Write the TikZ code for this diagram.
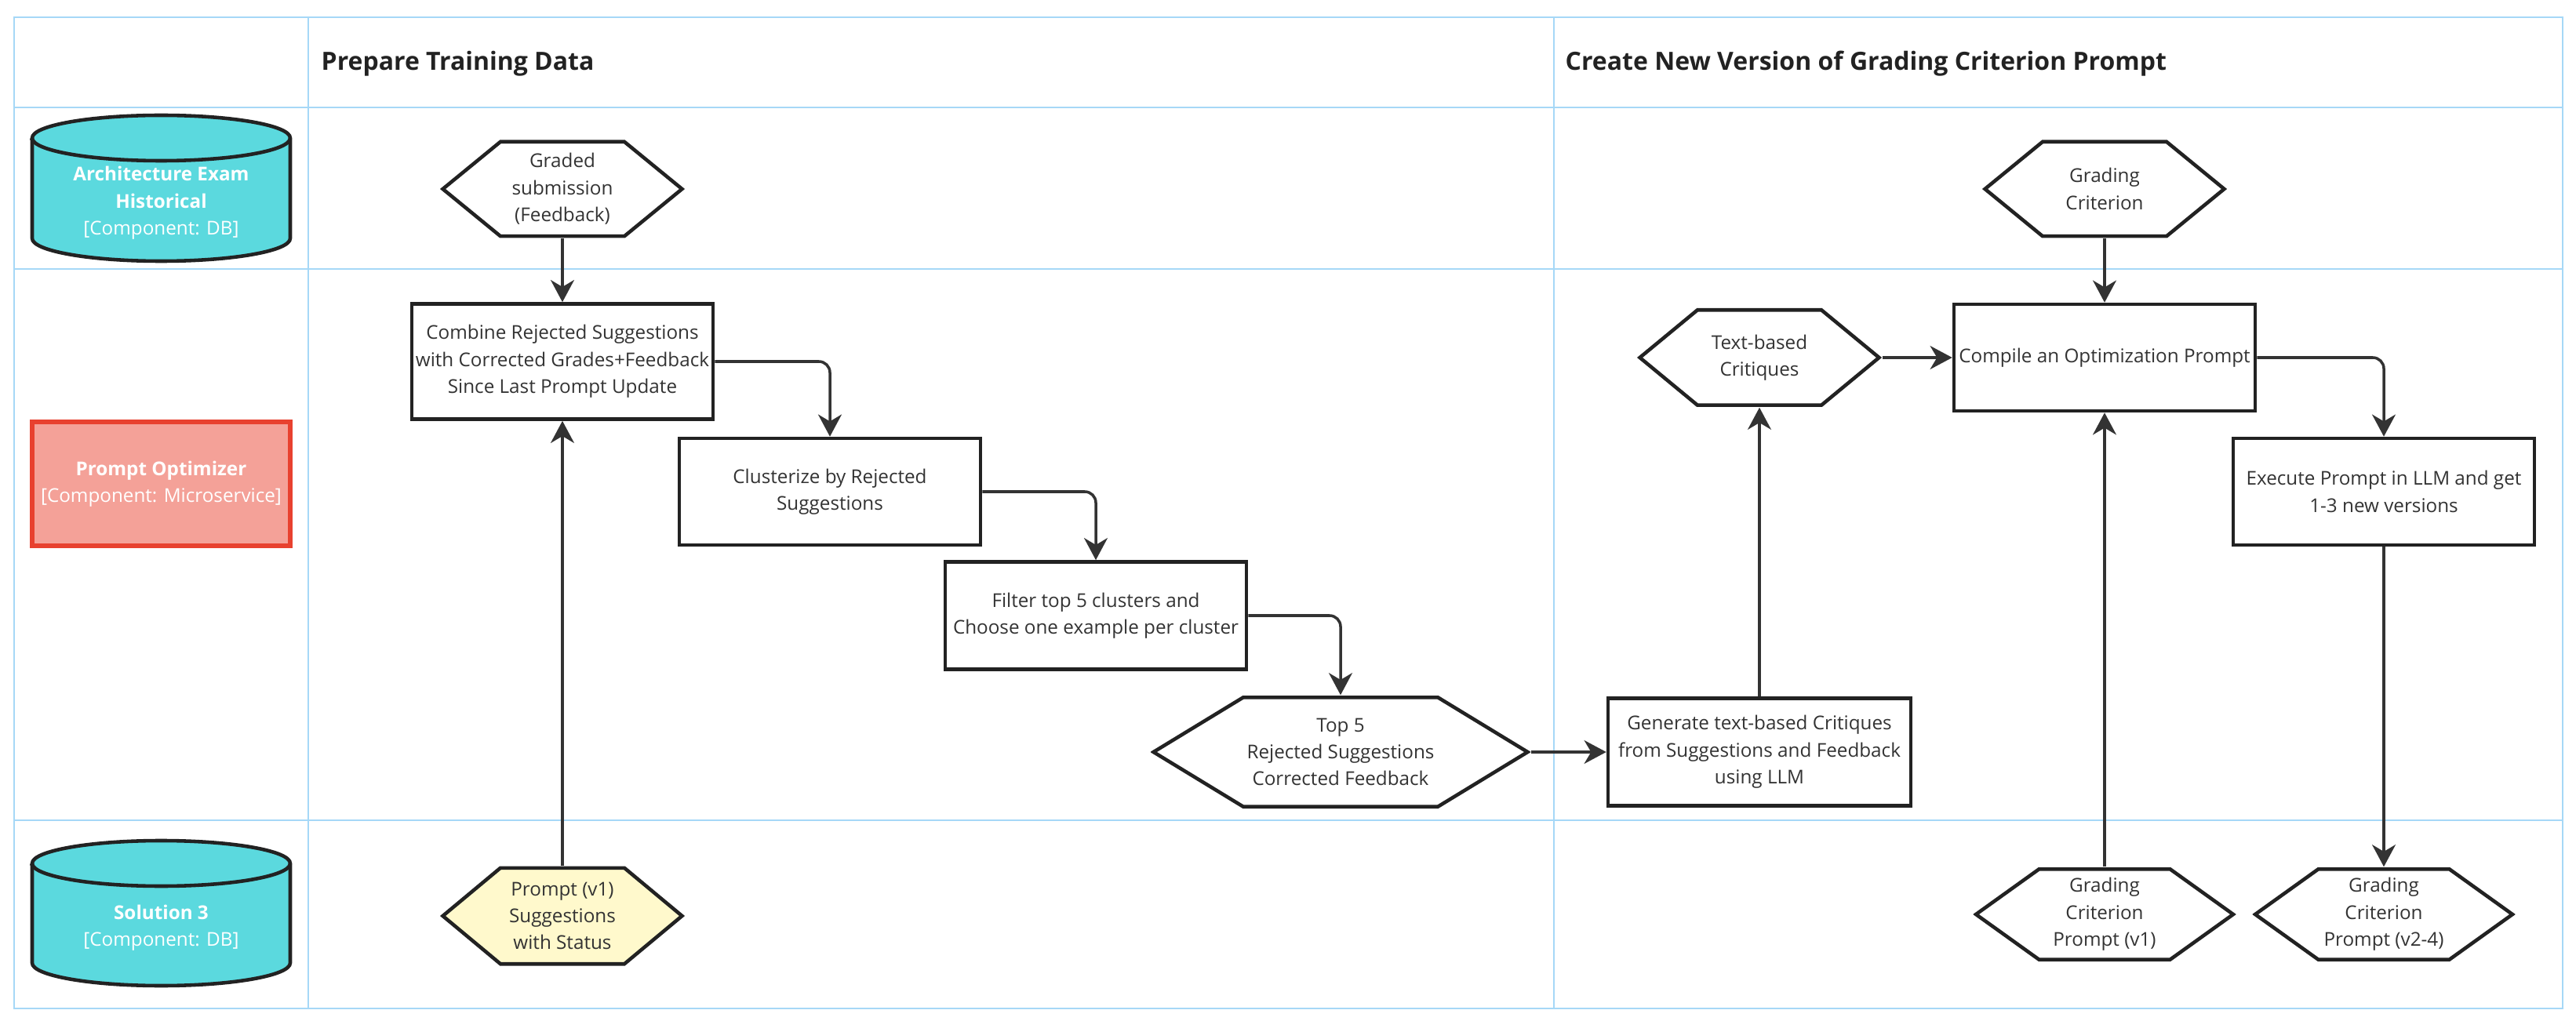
\documentclass[tikz,border=0pt]{standalone}
\usepackage{fontspec}
\setmainfont{Open Sans}
\usetikzlibrary{arrows.meta}

\definecolor{gridblue}{RGB}{166,216,247}
\definecolor{dbteal}{RGB}{91,217,222}
\definecolor{optred}{RGB}{244,161,152}
\definecolor{optborder}{RGB}{232,65,47}
\definecolor{notepale}{RGB}{255,249,204}
\definecolor{inkgray}{RGB}{51,51,51}
\definecolor{edgegray}{RGB}{34,34,34}

\tikzset{
  hexslant/.store in=\hexslant, hexslant=0.77cm,
  hexfill/.store in=\hexfill, hexfill=white,
}

\begin{document}
\begin{tikzpicture}[
    every node/.style={font={\fontsize{6.9}{9.8}\selectfont}, text=inkgray},
    lane/.style={draw=gridblue, line width=0.7pt},
    head/.style={anchor=west, inner sep=0pt, font={\fontsize{9.1}{11}\selectfont\bfseries}, text=edgegray},
    dbtext/.style={align=center, text=white},
    box/.style={draw=edgegray, line width=1.3pt, fill=white, align=center,
      minimum width=3.84cm, minimum height=1.36cm, inner sep=1pt},
    hexa/.style={align=center, inner sep=1pt, minimum width=3.12cm, minimum height=1.25cm,
      path picture={
        \filldraw[fill=\hexfill, draw=edgegray, line width=1.3pt]
          ([xshift=1pt]path picture bounding box.west)
          -- ([xshift=\hexslant, yshift=-0.65pt]path picture bounding box.north west)
          -- ([xshift=-\hexslant, yshift=-0.65pt]path picture bounding box.north east)
          -- ([xshift=-1pt]path picture bounding box.east)
          -- ([xshift=-\hexslant, yshift=0.65pt]path picture bounding box.south east)
          -- ([xshift=\hexslant, yshift=0.65pt]path picture bounding box.south west)
          -- cycle;
      }},
    flow/.style={draw=inkgray, line width=1pt, rounded corners=4pt,
      -{Stealth[length=8pt, width=8.5pt, inset=2.5pt]}},
  ]
  \useasboundingbox (0,0) rectangle (32.84,13.01);

  % swimlane grid
  \draw[lane] (0.18,0.15) rectangle (32.67,12.79);
  \draw[lane] (3.93,0.15) -- (3.93,12.79) (19.81,0.15) -- (19.81,12.79);
  \foreach \y in {11.64,9.58,2.55} \draw[lane] (0.18,\y) -- (32.67,\y);

  \node[head] (prephead) at (4.09,12.20) {Prepare Training Data};
  \node[head] (createhead) at (19.95,12.20) {Create New Version of Grading Criterion Prompt};

  % databases
  \foreach \ytop/\ybot in {11.25/9.97, 2.00/0.73} {
    \filldraw[fill=dbteal, draw=edgegray, line width=1.3pt]
      (0.41,\ytop) -- (0.41,\ybot) arc[start angle=180, end angle=360, x radius=1.645, y radius=0.29]
      -- (3.70,\ytop) arc[start angle=0, end angle=180, x radius=1.645, y radius=0.29] -- cycle;
    \draw[edgegray, line width=1.3pt] (0.41,\ytop) arc[start angle=180, end angle=360, x radius=1.645, y radius=0.29];
  }
  \node[dbtext] (archdb) at (2.055,10.42) {\textbf{Architecture Exam}\\\textbf{Historical}\\{[Component: DB]}};
  \node[dbtext] (soldb) at (2.055,1.18) {\textbf{Solution 3}\\{[Component: DB]}};
  \node[box, fill=optred, draw=optborder, line width=1.6pt, minimum width=3.29cm, minimum height=1.58cm, text=white]
    (optimizer) at (2.055,6.84) {\textbf{Prompt Optimizer}\\{[Component: Microservice]}};

  % prepare training data
  \node[hexa] (graded) at (7.17,10.60) {Graded\\submission\\(Feedback)};
  \node[box, minimum height=1.47cm] (combine) at (7.17,8.40) {Combine Rejected Suggestions\\with Corrected Grades+Feedback\\Since Last Prompt Update};
  \node[box] (cluster) at (10.58,6.74) {Clusterize by Rejected\\Suggestions};
  \node[box, minimum height=1.37cm] (filter) at (13.97,5.16) {Filter top 5 clusters and\\Choose one example per cluster};
  \node[hexa, hexslant=1.18cm, minimum width=4.84cm, minimum height=1.44cm] (topfive) at (17.09,3.42) {Top 5\\Rejected Suggestions\\Corrected Feedback};
  \node[hexa, hexfill=notepale, minimum height=1.27cm] (suggest) at (7.17,1.33) {Prompt (v1)\\Suggestions\\with Status};

  % new prompt version
  \node[box, minimum width=3.86cm, minimum height=1.37cm] (generate) at (22.43,3.42) {Generate text-based Critiques\\from Suggestions and Feedback\\using LLM};
  \node[hexa, minimum height=1.26cm] (critiques) at (22.43,8.45) {Text-based\\Critiques};
  \node[box] (compile) at (26.83,8.45) {Compile an Optimization Prompt};
  \node[box] (execute) at (30.39,6.74) {Execute Prompt in LLM and get\\1-3 new versions};
  \node[hexa] (gradcrit) at (26.83,10.60) {Grading\\Criterion};
  \node[hexa, hexslant=0.84cm, minimum width=3.35cm, minimum height=1.20cm] (critvone) at (26.83,1.35) {Grading\\Criterion\\Prompt (v1)};
  \node[hexa, hexslant=0.84cm, minimum width=3.35cm, minimum height=1.20cm] (critnew) at (30.39,1.35) {Grading\\Criterion\\Prompt (v2-4)};

  % connectors
  \draw[flow] (graded) -- (combine);
  \draw[flow] (suggest) -- (combine);
  \draw[flow] (combine.east) -| (cluster.north);
  \draw[flow] (cluster.east) -| (filter.north);
  \draw[flow] (filter.east) -| (topfive.north);
  \draw[flow] (topfive) -- (generate);
  \draw[flow] (generate) -- (critiques);
  \draw[flow] (critiques) -- (compile);
  \draw[flow] (gradcrit) -- (compile);
  \draw[flow] (critvone) -- (compile);
  \draw[flow] (compile.east) -| (execute.north);
  \draw[flow] (execute) -- (critnew);
\end{tikzpicture}
\end{document}
